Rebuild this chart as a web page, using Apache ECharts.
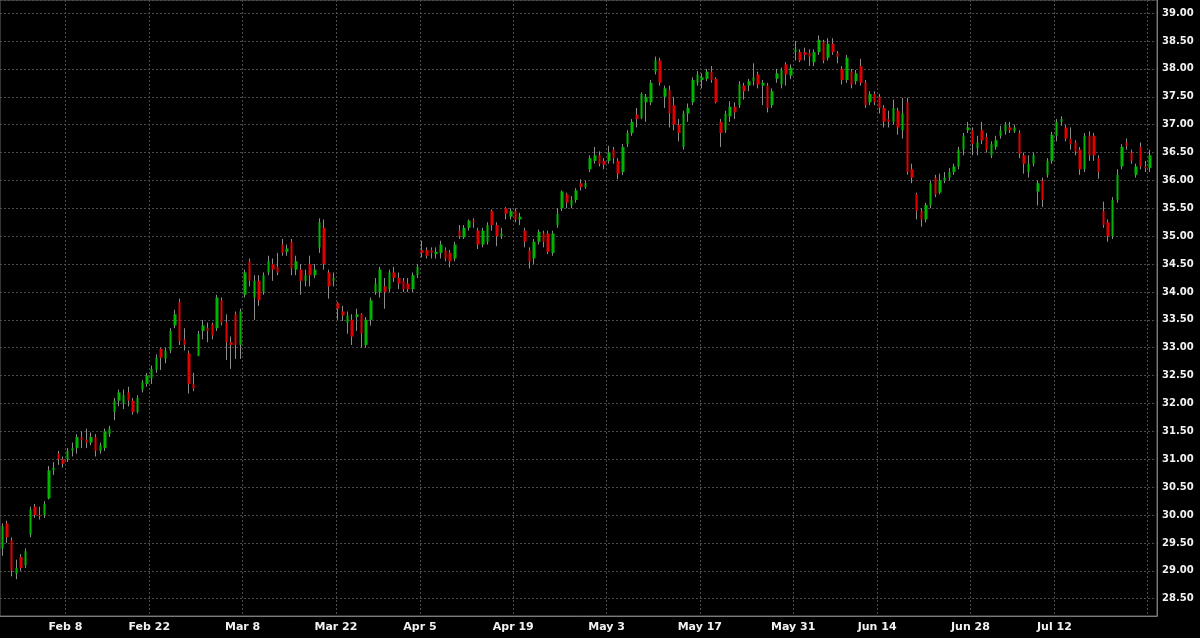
<!DOCTYPE html>
<html>
<head>
<meta charset="utf-8">
<script src="https://cdn.jsdelivr.net/npm/echarts@6/dist/echarts.min.js"></script>
<style>
  html, body { margin: 0; padding: 0; background: #000; }
  #chart { width: 1200px; height: 638px; }
</style>
</head>
<body>
<div id="chart"></div>
<script>
// trading calendar (two bars per session)
const firstDay = '2021-01-28'
const sessionCount = 124
const holidays = ['2021-02-15', '2021-04-02', '2021-05-31', '2021-07-05']
const gridWeeks = ['Feb 8', 'Feb 22', 'Mar 8', 'Mar 22', 'Apr 5', 'Apr 19', 'May 3', 'May 17', 'May 31', 'Jun 14', 'Jun 28', 'Jul 12', 'Jul 26']
const axisLabels = ['Feb 8', 'Feb 22', 'Mar 8', 'Mar 22', 'Apr 5', 'Apr 19', 'May 3', 'May 17', 'May 31', 'Jun 14', 'Jun 28', 'Jul 12']

// [open, close, low, high], two per session
const candles = [
  [29.4, 29.8, 29.27, 29.85], [29.85, 29.6, 29.5, 29.9],
  [29.55, 29.0, 28.9, 29.6], [28.95, 29.05, 28.85, 29.2],
  [29.25, 29.05, 29.0, 29.3], [29.1, 29.35, 29.05, 29.4],
  [29.65, 30.1, 29.6, 30.15], [30.15, 30.0, 29.95, 30.2],
  [30.0, 29.98, 29.92, 30.15], [30.0, 30.2, 29.95, 30.25],
  [30.3, 30.8, 30.28, 30.88], [30.8, 30.85, 30.72, 30.95],
  [31.1, 31.0, 30.9, 31.15], [31.0, 30.92, 30.85, 31.05],
  [31.0, 31.15, 30.95, 31.2], [31.15, 31.2, 31.05, 31.3],
  [31.2, 31.4, 31.1, 31.45], [31.4, 31.35, 31.2, 31.5],
  [31.35, 31.3, 31.2, 31.55], [31.3, 31.4, 31.25, 31.48],
  [31.4, 31.15, 31.05, 31.45], [31.15, 31.25, 31.1, 31.3],
  [31.2, 31.5, 31.15, 31.55], [31.45, 31.55, 31.4, 31.6],
  [31.85, 32.05, 31.7, 32.1], [32.05, 32.2, 31.95, 32.25],
  [32.0, 32.15, 31.9, 32.25], [32.2, 32.05, 31.95, 32.3],
  [32.05, 31.85, 31.8, 32.1], [31.85, 32.1, 31.82, 32.15],
  [32.25, 32.38, 32.2, 32.42], [32.35, 32.5, 32.3, 32.55],
  [32.45, 32.62, 32.35, 32.68], [32.6, 32.82, 32.55, 32.88],
  [32.98, 32.82, 32.6, 33.0], [32.8, 32.95, 32.72, 33.0],
  [32.95, 33.3, 32.9, 33.35], [33.4, 33.6, 33.35, 33.68],
  [33.82, 33.12, 33.05, 33.88], [33.15, 33.05, 32.95, 33.35],
  [32.9, 32.35, 32.18, 32.95], [32.35, 32.27, 32.22, 32.55],
  [32.85, 33.25, 32.85, 33.3], [33.3, 33.4, 33.15, 33.5],
  [33.35, 33.3, 33.1, 33.45], [33.42, 33.22, 33.15, 33.45],
  [33.35, 33.9, 33.3, 33.95], [33.85, 33.45, 33.4, 33.9],
  [33.45, 33.1, 32.78, 33.6], [33.1, 33.05, 32.62, 33.2],
  [33.6, 33.05, 32.8, 33.65], [33.05, 33.65, 32.8, 33.7],
  [33.95, 34.35, 33.9, 34.4], [34.55, 34.2, 34.1, 34.6],
  [33.9, 34.2, 33.5, 34.3], [34.2, 33.85, 33.75, 34.3],
  [34.0, 34.3, 33.95, 34.35], [34.35, 34.55, 34.3, 34.65],
  [34.5, 34.4, 34.2, 34.6], [34.45, 34.35, 34.3, 34.7],
  [34.85, 34.7, 34.65, 34.95], [34.72, 34.78, 34.65, 34.85],
  [34.9, 34.42, 34.3, 34.95], [34.4, 34.55, 34.3, 34.65],
  [34.4, 34.2, 33.95, 34.5], [34.2, 34.3, 34.1, 34.4],
  [34.5, 34.3, 34.1, 34.65], [34.3, 34.4, 34.25, 34.5],
  [34.8, 35.25, 34.7, 35.32], [35.15, 34.5, 34.4, 35.3],
  [34.35, 34.1, 33.88, 34.4], [34.2, 34.25, 34.1, 34.35],
  [33.8, 33.7, 33.5, 33.82], [33.65, 33.58, 33.48, 33.75],
  [33.45, 33.58, 33.25, 33.65], [33.5, 33.2, 33.05, 33.6],
  [33.55, 33.6, 33.3, 33.7], [33.6, 33.25, 33.0, 33.62],
  [33.05, 33.5, 33.0, 33.55], [33.5, 33.85, 33.4, 33.9],
  [34.0, 34.15, 33.95, 34.25], [34.0, 34.4, 33.9, 34.45],
  [34.1, 34.0, 33.7, 34.25], [34.05, 34.35, 34.0, 34.4],
  [34.35, 34.25, 34.18, 34.45], [34.25, 34.15, 34.05, 34.35],
  [34.2, 34.05, 34.0, 34.25], [34.15, 34.05, 34.0, 34.25],
  [34.05, 34.3, 34.0, 34.35], [34.3, 34.45, 34.25, 34.5],
  [34.75, 34.7, 34.62, 34.92], [34.75, 34.65, 34.6, 34.8],
  [34.75, 34.7, 34.6, 34.8], [34.68, 34.72, 34.6, 34.8],
  [34.7, 34.85, 34.6, 34.92], [34.75, 34.6, 34.55, 34.8],
  [34.7, 34.55, 34.44, 34.75], [34.6, 34.85, 34.55, 34.9],
  [35.1, 35.0, 34.95, 35.2], [34.98, 35.15, 34.95, 35.2],
  [35.15, 35.28, 35.1, 35.3], [35.28, 35.25, 35.15, 35.32],
  [35.1, 34.85, 34.77, 35.15], [34.85, 35.1, 34.8, 35.15],
  [34.9, 35.2, 34.85, 35.25], [35.45, 35.2, 35.1, 35.48],
  [35.2, 35.0, 34.82, 35.25], [35.0, 35.05, 34.95, 35.15],
  [35.5, 35.4, 35.3, 35.52], [35.35, 35.45, 35.3, 35.5],
  [35.45, 35.3, 35.25, 35.5], [35.3, 35.35, 35.2, 35.42],
  [35.1, 34.9, 34.8, 35.15], [34.75, 34.55, 34.42, 34.8],
  [34.6, 34.9, 34.5, 34.95], [34.9, 35.08, 34.85, 35.12],
  [35.05, 34.9, 34.8, 35.1], [35.05, 34.72, 34.68, 35.1],
  [34.7, 35.05, 34.65, 35.1], [35.2, 35.4, 35.15, 35.5],
  [35.5, 35.8, 35.45, 35.82], [35.75, 35.6, 35.5, 35.78],
  [35.55, 35.65, 35.5, 35.72], [35.65, 35.82, 35.6, 35.86],
  [35.95, 35.88, 35.82, 36.02], [35.88, 35.95, 35.85, 36.0],
  [36.2, 36.4, 36.15, 36.45], [36.35, 36.45, 36.3, 36.6],
  [36.45, 36.3, 36.25, 36.52], [36.35, 36.28, 36.2, 36.4],
  [36.35, 36.5, 36.3, 36.62], [36.55, 36.4, 36.3, 36.6],
  [36.35, 36.12, 36.02, 36.4], [36.15, 36.6, 36.1, 36.65],
  [36.65, 36.85, 36.6, 36.9], [36.85, 37.05, 36.8, 37.1],
  [37.18, 37.1, 36.95, 37.3], [37.12, 37.55, 37.1, 37.58],
  [37.4, 37.5, 37.05, 37.55], [37.4, 37.75, 37.35, 37.8],
  [37.95, 38.15, 37.9, 38.22], [38.15, 37.75, 37.7, 38.2],
  [37.5, 37.65, 37.3, 37.7], [37.62, 37.2, 36.95, 37.7],
  [37.35, 37.0, 36.9, 37.5], [37.0, 36.85, 36.7, 37.1],
  [36.6, 37.2, 36.55, 37.25], [37.2, 37.3, 37.05, 37.38],
  [37.4, 37.8, 37.35, 37.85], [37.75, 37.9, 37.7, 37.96],
  [37.8, 37.85, 37.65, 37.92], [37.82, 37.95, 37.78, 38.0],
  [37.95, 37.8, 37.75, 38.05], [37.82, 37.4, 37.38, 37.85],
  [37.05, 36.85, 36.6, 37.1], [36.9, 37.2, 36.85, 37.25],
  [37.15, 37.32, 37.05, 37.42], [37.32, 37.22, 37.1, 37.4],
  [37.35, 37.72, 37.3, 37.78], [37.7, 37.6, 37.45, 37.75],
  [37.7, 37.78, 37.6, 37.82], [37.78, 37.85, 37.7, 38.1],
  [37.9, 37.72, 37.65, 37.95], [37.7, 37.75, 37.35, 37.8],
  [37.7, 37.3, 37.22, 37.75], [37.35, 37.6, 37.3, 37.65],
  [37.82, 37.92, 37.75, 38.0], [37.72, 37.98, 37.65, 38.02],
  [38.08, 37.9, 37.7, 38.12], [37.88, 38.02, 37.82, 38.08],
  [38.3, 38.35, 38.15, 38.5], [38.3, 38.15, 38.12, 38.35],
  [38.3, 38.25, 38.15, 38.38], [38.28, 38.22, 38.05, 38.35],
  [38.12, 38.3, 38.05, 38.35], [38.3, 38.52, 38.25, 38.6],
  [38.48, 38.15, 38.1, 38.52], [38.2, 38.45, 38.15, 38.55],
  [38.45, 38.3, 38.25, 38.55], [38.28, 38.22, 38.1, 38.32],
  [38.0, 37.8, 37.72, 38.05], [37.8, 38.2, 37.75, 38.25],
  [37.95, 37.72, 37.65, 38.0], [37.78, 37.92, 37.72, 37.98],
  [38.05, 37.75, 37.7, 38.18], [37.75, 37.35, 37.3, 37.8],
  [37.4, 37.55, 37.35, 37.6], [37.55, 37.4, 37.35, 37.6],
  [37.5, 37.3, 37.2, 37.55], [37.3, 37.05, 36.95, 37.35],
  [37.1, 37.05, 36.95, 37.25], [37.05, 37.3, 37.0, 37.45],
  [37.25, 36.95, 36.82, 37.3], [36.9, 37.2, 36.75, 37.48],
  [37.4, 36.15, 36.1, 37.48], [36.2, 36.05, 35.95, 36.3],
  [35.75, 35.45, 35.3, 35.78], [35.45, 35.3, 35.17, 35.5],
  [35.3, 35.56, 35.25, 35.6], [35.55, 35.95, 35.5, 36.0],
  [36.05, 35.75, 35.7, 36.1], [35.78, 36.0, 35.75, 36.12],
  [36.0, 36.05, 35.95, 36.15], [36.05, 36.15, 36.0, 36.22],
  [36.15, 36.25, 36.1, 36.3], [36.25, 36.55, 36.2, 36.6],
  [36.55, 36.8, 36.45, 36.85], [36.9, 36.95, 36.85, 37.05],
  [36.9, 36.65, 36.45, 36.95], [36.58, 36.68, 36.45, 36.8],
  [36.9, 36.72, 36.65, 37.05], [36.78, 36.55, 36.5, 36.85],
  [36.45, 36.65, 36.4, 36.7], [36.6, 36.72, 36.55, 36.8],
  [36.8, 36.9, 36.75, 36.98], [36.88, 37.0, 36.82, 37.05],
  [36.95, 36.9, 36.85, 37.05], [36.88, 36.95, 36.85, 37.0],
  [36.85, 36.48, 36.4, 36.9], [36.45, 36.3, 36.12, 36.5],
  [36.15, 36.3, 36.05, 36.45], [36.3, 36.45, 36.25, 36.5],
  [35.8, 35.95, 35.55, 36.0], [36.0, 35.65, 35.52, 36.05],
  [36.1, 36.35, 36.05, 36.4], [36.35, 36.82, 36.3, 36.87],
  [36.8, 37.05, 36.7, 37.1], [37.05, 37.1, 36.98, 37.15],
  [36.95, 36.75, 36.7, 37.0], [36.75, 36.65, 36.55, 36.95],
  [36.68, 36.52, 36.45, 36.72], [36.55, 36.2, 36.1, 36.6],
  [36.2, 36.8, 36.15, 36.85], [36.8, 36.45, 36.35, 36.88],
  [36.8, 36.45, 36.35, 36.85], [36.4, 36.15, 36.03, 36.45],
  [35.45, 35.2, 35.15, 35.62], [35.25, 35.0, 34.9, 35.3],
  [35.0, 35.65, 34.95, 35.7], [35.65, 36.1, 35.6, 36.2],
  [36.25, 36.6, 36.2, 36.65], [36.68, 36.62, 36.55, 36.75],
  [36.5, 36.35, 36.3, 36.55], [36.1, 36.25, 36.05, 36.3],
  [36.6, 36.25, 36.2, 36.68], [36.25, 36.22, 36.15, 36.35],
  [36.22, 36.45, 36.15, 36.55]
]

const monthNames = ['Jan', 'Feb', 'Mar', 'Apr', 'May', 'Jun', 'Jul', 'Aug', 'Sep', 'Oct', 'Nov', 'Dec']

function isoDay(d) {
  return d.toISOString().slice(0, 10)
}

function weekLabel(d) {
  const dow = d.getUTCDay()
  const monday = new Date(d.getTime() - (dow - 1) * 86400000)
  return monthNames[monday.getUTCMonth()] + ' ' + monday.getUTCDate()
}

// build sessions
const sessions = []
let cursor = new Date(firstDay + 'T00:00:00Z')
while (sessions.length < sessionCount) {
  const dow = cursor.getUTCDay()
  if (dow !== 0 && dow !== 6 && !holidays.includes(isoDay(cursor))) {
    sessions.push(new Date(cursor.getTime()))
  }
  cursor = new Date(cursor.getTime() + 86400000)
}

const categories = []
const gridAt = []
const labelAt = []
sessions.forEach((d, i) => {
  const wk = weekLabel(d)
  const newWeek = i === 0 || weekLabel(sessions[i - 1]) !== wk
  ;['AM', 'PM'].forEach((half, h) => {
    categories.push(isoDay(d) + ' ' + half)
    const mark = h === 0 && newWeek && i > 0
    gridAt.push(mark && gridWeeks.includes(wk))
    labelAt.push(mark && axisLabels.includes(wk) ? wk : '')
  })
})

const bodyData = candles.map((c) => [c[0], c[1], Math.min(c[0], c[1]), Math.max(c[0], c[1])])

const chart = echarts.init(document.getElementById('chart'))

chart.setOption({
  animation: false,
  backgroundColor: '#000000',
  grid: {
    left: 0, right: 43, top: 0, bottom: 22,
    show: true, borderColor: '#6a6a6a', borderWidth: 1,
    containLabel: false, outerBoundsMode: 'none'
  },
  xAxis: {
    type: 'category',
    data: categories,
    boundaryGap: true,
    axisLine: { lineStyle: { color: '#7a7a7a' } },
    axisTick: { show: false },
    axisLabel: {
      interval: (i) => labelAt[i] !== '',
      formatter: (v, i) => labelAt[i],
      color: '#f2f2f2',
      fontFamily: 'DejaVu Sans',
      fontWeight: 'bold',
      fontSize: 11,
      margin: 6,
      padding: [0, 4.6, 0, 0]
    },
    splitLine: {
      show: true,
      interval: (i) => gridAt[i],
      lineStyle: { color: '#4d4d4d', type: [2, 2], width: 1 }
    }
  },
  yAxis: {
    type: 'value',
    position: 'right',
    min: 28.19,
    max: 39.235,
    splitNumber: 22,
    minInterval: 0.5,
    maxInterval: 0.5,
    axisLine: { show: true, lineStyle: { color: '#7a7a7a' } },
    axisTick: { show: false },
    axisLabel: {
      formatter: (v) => (Math.abs(v * 2 - Math.round(v * 2)) < 1e-6 ? v.toFixed(2) : ''),
      color: '#f2f2f2',
      fontFamily: 'DejaVu Sans',
      fontWeight: 'bold',
      fontSize: 10,
      margin: 5
    },
    splitLine: {
      show: true,
      lineStyle: { color: '#4d4d4d', type: [2, 2], width: 1 }
    }
  },
  series: [
    {
      // grey high-low range behind the bodies
      name: 'range',
      type: 'candlestick',
      data: candles,
      barWidth: 1,
      silent: true,
      itemStyle: {
        color: '#8c8c8c', color0: '#8c8c8c',
        borderColor: '#8c8c8c', borderColor0: '#8c8c8c', borderColorDoji: '#8c8c8c',
        borderWidth: 1
      }
    },
    {
      name: 'body',
      type: 'candlestick',
      data: bodyData,
      barWidth: 3,
      silent: true,
      itemStyle: {
        color: '#00b400', color0: '#e00000',
        borderColor: '#00b400', borderColor0: '#e00000', borderColorDoji: '#e8e800',
        borderWidth: 0
      }
    }
  ]
})
</script>
</body>
</html>
